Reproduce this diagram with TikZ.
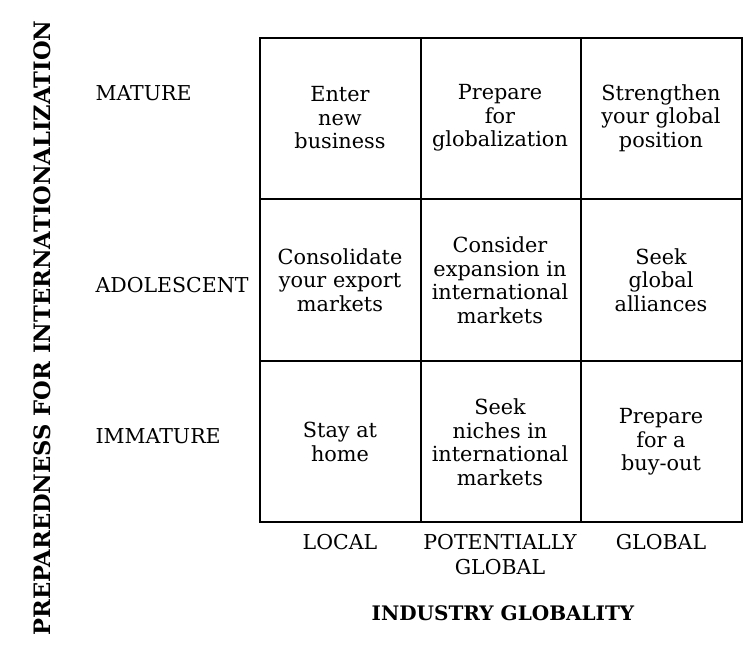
\documentclass[tikz,border=0pt]{standalone}
\usepackage{fontspec}
\setmainfont{DejaVu Serif}
\begin{document}
\begin{tikzpicture}[x=1pt,y=-1pt,
  cell/.style={align=center,font=\fontsize{20.8}{23.5}\selectfont},
  lab/.style={font=\fontsize{20.5}{25}\selectfont,align=center},
  axis/.style={font=\bfseries\fontsize{20}{22}\selectfont}]
\useasboundingbox (0,0) rectangle (753,661);
\draw[line width=2pt] (260,38) rectangle (742,522);
\draw[line width=2pt] (421,38) -- (421,522) (581,38) -- (581,522)
  (260,199) -- (742,199) (260,361) -- (742,361);
\node[cell] (a1) at (340,118) {Enter\\new\\business};
\node[cell] (a2) at (500,118) {Prepare\\for\\globalization};
\node[cell] (a3) at (661,118) {Strengthen\\your global\\position};
\node[cell] (b1) at (340,280) {Consolidate\\your export\\markets};
\node[cell] (b2) at (500,280) {Consider\\expansion in\\international\\markets};
\node[cell] (b3) at (661,280) {Seek\\global\\alliances};
\node[cell] (c1) at (340,442) {Stay at\\home};
\node[cell] (c2) at (500,442) {Seek\\niches in\\international\\markets};
\node[cell] (c3) at (661,442) {Prepare\\for a\\buy-out};
\node[lab,anchor=west] (m) at (92,93) {MATURE};
\node[lab,anchor=west] (ad) at (92,285) {ADOLESCENT};
\node[lab,anchor=west] (im) at (92,436) {IMMATURE};
\node[lab,anchor=north] (lo) at (340,531) {LOCAL};
\node[lab,anchor=north] (pg) at (500,531) {POTENTIALLY\\GLOBAL};
\node[lab,anchor=north] (gl) at (661,531) {GLOBAL};
\node[axis] (ig) at (503,613) {INDUSTRY GLOBALITY};
\node[axis,rotate=90,font=\bfseries\fontsize{22.6}{24}\selectfont] (pi) at (42,328) {PREPAREDNESS FOR INTERNATIONALIZATION};
\end{tikzpicture}
\end{document}
